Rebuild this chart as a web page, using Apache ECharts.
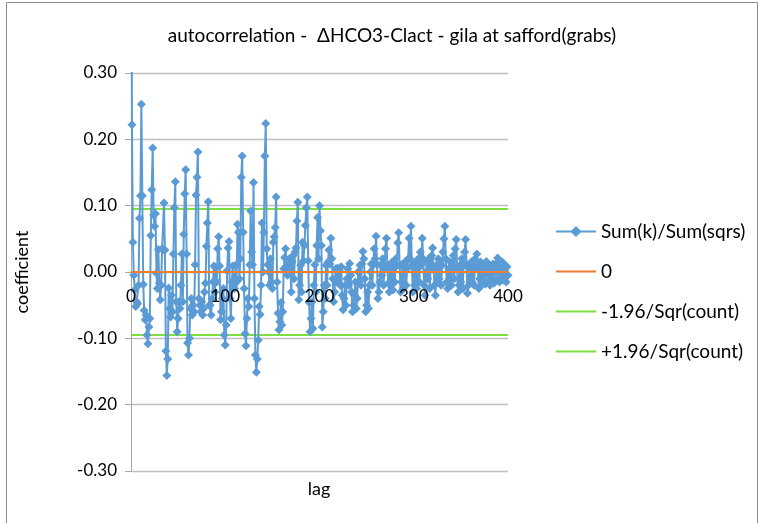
<!DOCTYPE html>
<html>
<head>
<meta charset="utf-8">
<script src="https://cdn.jsdelivr.net/npm/echarts@6/dist/echarts.min.js"></script>
<style>html,body{margin:0;padding:0;background:#fff;}#c{width:765px;height:523px;}</style>
</head>
<body>
<div id="c"></div>
<script>
// autocorrelation coefficient for lag 0..400
const acf = [
 1.0, 0.222, 0.045, -0.005, -0.027, -0.052, -0.045, -0.048, -0.02, 0.081, 0.115, 0.253,
 0.115, -0.019, -0.058, -0.072, -0.065, -0.095, -0.108, -0.083, -0.07, 0.055, 0.124, 0.187,
 0.086, 0.069, 0.088, -0.002, -0.025, 0.034, -0.017, -0.042, -0.02, 0.035, 0.033, 0.104,
 0.033, -0.119, -0.156, -0.131, -0.024, -0.055, -0.068, -0.035, -0.06, 0.027, 0.097, 0.136,
 -0.045, -0.09, -0.07, -0.045, -0.055, -0.02, 0.027, -0.045, 0.057, 0.118, 0.154, 0.027,
 -0.107, -0.125, -0.1, -0.055, -0.04, -0.065, -0.05, -0.06, 0.011, 0.116, 0.143, 0.181,
 -0.04, -0.05, -0.06, -0.045, -0.065, -0.055, -0.03, -0.017, 0.039, 0.074, 0.106, -0.05,
 -0.05, -0.065, -0.04, -0.015, 0.009, -0.03, 0.006, -0.015, 0.035, 0.053, 0.009, -0.072,
 -0.06, -0.04, -0.025, -0.095, -0.11, -0.08, 0.002, 0.036, 0.046, -0.04, -0.07, -0.015,
 0.009, -0.02, -0.025, 0.01, -0.015, 0.072, 0.06, -0.01, 0.02, 0.143, 0.175, 0.06,
 -0.025, -0.093, -0.111, -0.07, -0.04, -0.052, 0.011, 0.092, 0.03, 0.011, 0.135, -0.04,
 -0.125, -0.151, -0.131, -0.103, -0.052, -0.064, -0.02, 0.074, 0.0, 0.06, 0.175, 0.224,
 0.035, 0.011, 0.0, -0.02, 0.02, -0.015, -0.025, 0.045, 0.053, 0.067, 0.113, -0.015,
 -0.062, -0.087, -0.075, -0.046, -0.08, -0.06, 0.005, 0.022, 0.035, 0.002, -0.005, 0.01,
 0.02, 0.012, -0.03, 0.015, 0.025, -0.01, 0.03, 0.036, 0.077, 0.105, -0.042, -0.02,
 0.01, -0.03, 0.045, 0.017, 0.04, 0.07, 0.097, 0.113, 0.017, -0.046, -0.09, -0.07,
 -0.045, -0.085, -0.02, 0.011, -0.03, 0.04, 0.082, 0.02, 0.1, 0.062, 0.04, -0.083,
 -0.06, -0.02, -0.04, 0.01, -0.02, 0.015, 0.033, 0.012, 0.051, 0.02, -0.01, -0.045,
 -0.03, 0.005, -0.015, 0.006, -0.01, 0.002, -0.02, 0.008, -0.035, -0.057, -0.04, -0.02,
 -0.05, -0.01, 0.005, -0.02, 0.013, -0.005, -0.03, -0.06, -0.05, -0.035, -0.015, -0.055,
 -0.04, 0.0, -0.015, 0.01, -0.02, 0.012, 0.031, 0.02, -0.01, -0.06, -0.05, -0.03,
 -0.055, -0.02, 0.0, 0.012, -0.02, 0.01, 0.035, 0.02, 0.054, 0.012, -0.04, -0.03,
 -0.015, 0.01, -0.005, 0.02, -0.02, 0.01, 0.035, 0.051, 0.005, -0.017, -0.03, 0.01,
 -0.02, 0.015, -0.027, 0.005, -0.015, 0.02, 0.01, 0.044, 0.059, 0.01, -0.03, -0.015,
 0.012, -0.025, 0.008, 0.015, -0.02, 0.005, 0.02, 0.051, 0.02, 0.069, 0.01, -0.03,
 0.01, -0.02, 0.015, -0.025, 0.005, 0.02, -0.015, 0.03, 0.01, 0.051, 0.02, -0.02,
 -0.035, 0.0, 0.015, -0.01, 0.02, -0.025, 0.012, 0.025, 0.036, 0.005, -0.02, -0.035,
 0.01, -0.015, 0.02, -0.01, 0.015, -0.02, 0.01, 0.03, 0.05, 0.069, 0.02, -0.015,
 -0.025, 0.005, -0.01, 0.015, -0.02, 0.01, 0.025, -0.01, 0.035, 0.049, 0.005, -0.03,
 -0.02, 0.01, -0.015, 0.02, -0.025, 0.01, 0.03, 0.049, 0.012, -0.032, -0.02, 0.005,
 -0.01, 0.015, -0.015, 0.01, -0.02, 0.02, 0.01, 0.027, 0.005, -0.025, -0.01, 0.015,
 -0.02, 0.008, -0.012, 0.012, -0.018, 0.016, 0.005, -0.015, 0.01, -0.02, 0.008, -0.01,
 0.012, -0.017, 0.006, 0.012, -0.012, 0.021, 0.008, -0.015, 0.01, -0.008, 0.015, -0.012,
 0.005, 0.01, -0.015, 0.008, -0.005
];
const boundX = [0, 400];
const zeroLine = [0, 0];
const lowerBound = [-0.095, -0.095];
const upperBound = [0.095, 0.095];
const seriesNames = ['Sum(k)/Sum(sqrs)', '0', '-1.96/Sqr(count)', '+1.96/Sqr(count)'];
const titleText = 'autocorrelation -  \u0394HCO3-Clact - gila at safford(grabs)';

const FONT = 'Lato, "Open Sans", sans-serif';
const acfData = acf.map((v, i) => [i, v]);
const pair = (ys) => boundX.map((x, i) => [x, ys[i]]);

const GL = 131, GR = 257, GT = 73, GB = 52;
const chart = echarts.init(document.getElementById('c'), null, {renderer: 'canvas'});
chart.setOption({
  animation: false,
  backgroundColor: '#ffffff',
  textStyle: {fontFamily: FONT},
  grid: [
    {left: GL, right: GR, top: GT, bottom: GB, containLabel: false},
    // helper grid whose bottom edge is the zero line, to carry the lag labels
    {left: GL, right: GR, top: GT, bottom: 523 - 272, containLabel: false}
  ],
  xAxis: [
    {type: 'value', gridIndex: 0, min: 0, max: 400, interval: 100,
      axisLine: {show: false}, axisTick: {show: false}, splitLine: {show: false}, axisLabel: {show: false}},
    {type: 'value', gridIndex: 1, min: 0, max: 400, interval: 100, z: 20,
      axisLine: {show: false}, axisTick: {show: false}, splitLine: {show: false},
      axisLabel: {color: '#000', fontSize: 17, fontFamily: FONT, margin: 16}}
  ],
  yAxis: [
    {type: 'value', gridIndex: 0, min: -0.3, max: 0.3, interval: 0.1,
      axisLine: {show: true, onZero: false, lineStyle: {color: '#a6a6a6'}},
      axisTick: {show: true, length: 6, lineStyle: {color: '#a6a6a6'}},
      splitLine: {show: true, lineStyle: {color: '#bfbfbf', width: 1.3}},
      axisLabel: {color: '#000', fontSize: 17, fontFamily: FONT, margin: 14,
        formatter: (v) => (Math.round(v * 100) / 100).toFixed(2)}},
    {type: 'value', gridIndex: 1, min: -1, max: 1, show: false}
  ],
  legend: {
    orient: 'vertical', left: 555, top: 222, padding: 0, itemGap: 21, itemWidth: 40, itemHeight: 14,
    textStyle: {color: '#000', fontSize: 19, fontFamily: FONT, lineHeight: 18},
    data: [
      {name: seriesNames[0]},
      {name: seriesNames[1], itemStyle: {opacity: 0}},
      {name: seriesNames[2], itemStyle: {opacity: 0}},
      {name: seriesNames[3], itemStyle: {opacity: 0}}
    ]
  },
  graphic: [
    {type: 'rect', shape: {x: 6.5, y: 2.5, width: 751, height: 540}, style: {fill: 'none', stroke: '#8c8c8c', lineWidth: 1}, silent: true, z: -1},
    {type: 'text', x: 392, y: 26, style: {text: titleText, fill: '#000', font: '19px ' + FONT, textAlign: 'center'}},
    {type: 'text', x: 319, y: 480, style: {text: 'lag', fill: '#000', font: '18px ' + FONT, textAlign: 'center'}},
    {type: 'text', x: 13, y: 272, rotation: Math.PI / 2, style: {text: 'coefficient', fill: '#000', font: '18px ' + FONT, textAlign: 'center'}}
  ],
  series: [
    {name: seriesNames[0], type: 'line', data: acfData, symbol: 'diamond', symbolSize: 9, showAllSymbol: true,
      color: '#5b9bd5', lineStyle: {width: 2, color: '#5b9bd5'}, itemStyle: {color: '#5b9bd5'}, clip: true, z: 3},
    {name: seriesNames[1], type: 'line', data: pair(zeroLine), symbol: 'none', color: '#ed7d31', lineStyle: {width: 2, color: '#ed7d31'}, z: 4},
    {name: seriesNames[2], type: 'line', data: pair(lowerBound), symbol: 'none', color: '#7ee03f', lineStyle: {width: 2, color: '#7ee03f'}, z: 2},
    {name: seriesNames[3], type: 'line', data: pair(upperBound), symbol: 'none', color: '#7ee03f', lineStyle: {width: 2, color: '#7ee03f'}, z: 2}
  ]
});
</script>
</body>
</html>
